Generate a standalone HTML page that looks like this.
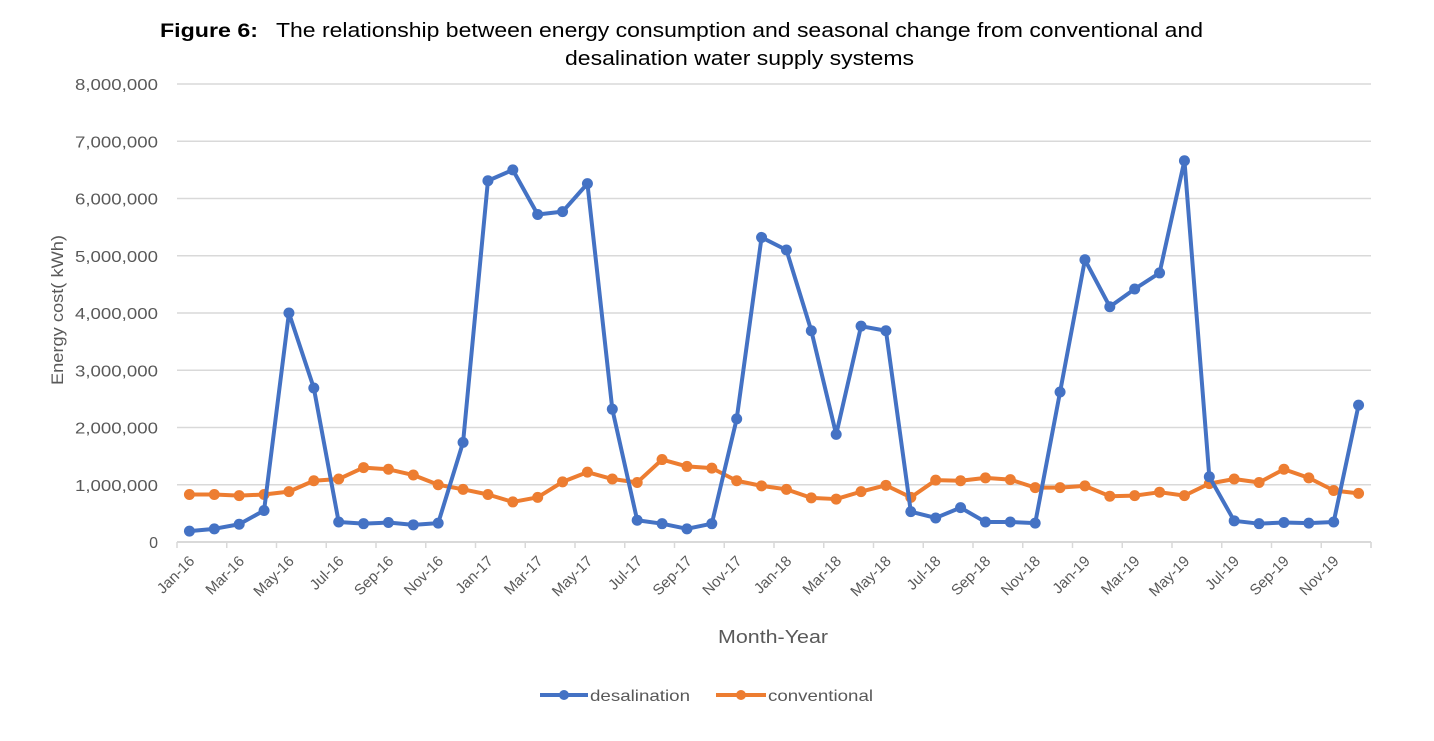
<!DOCTYPE html>
<html><head><meta charset="utf-8"><style>
body{margin:0;background:#fff;width:1434px;height:736px;overflow:hidden;font-family:"Liberation Sans",sans-serif}
</style></head><body>
<svg width="1434" height="736">
<text x="160" y="37" font-size="19" font-weight="bold" textLength="98" lengthAdjust="spacingAndGlyphs">Figure 6:</text>
<text x="276" y="37" font-size="20" textLength="927" lengthAdjust="spacingAndGlyphs">The relationship between energy consumption and seasonal change from conventional and</text>
<text x="565" y="65" font-size="20" textLength="349" lengthAdjust="spacingAndGlyphs">desalination water supply systems</text>
<g id="grid"></g><g id="xt"></g><g id="series"></g>
<text transform="translate(63,310) rotate(-90)" font-size="17" fill="#595959" text-anchor="middle" textLength="150" lengthAdjust="spacingAndGlyphs">Energy cost( kWh)</text>
<text x="718" y="643" font-size="18" fill="#595959" textLength="110" lengthAdjust="spacingAndGlyphs">Month-Year</text>
<g>
<line x1="540" y1="695" x2="588" y2="695" stroke="#4472C4" stroke-width="4"/><circle cx="564" cy="695" r="5" fill="#4472C4"/>
<text x="590" y="701" font-size="16" fill="#595959" textLength="100" lengthAdjust="spacingAndGlyphs">desalination</text>
<line x1="716" y1="695" x2="766" y2="695" stroke="#ED7D31" stroke-width="4"/><circle cx="741" cy="695" r="5" fill="#ED7D31"/>
<text x="768" y="701" font-size="16" fill="#595959" textLength="105" lengthAdjust="spacingAndGlyphs">conventional</text>
</g>
</svg>
<script>
const yTicks=[0,1000000,2000000,3000000,4000000,5000000,6000000,7000000,8000000];
const years=["16","17","18","19"];
const monthNames=["Jan","Feb","Mar","Apr","May","Jun","Jul","Aug","Sep","Oct","Nov","Dec"];
const desalination=[0.19,0.23,0.31,0.55,4.0,2.69,0.35,0.32,0.34,0.30,0.33,1.74,
6.31,6.5,5.72,5.77,6.26,2.32,0.38,0.32,0.23,0.32,2.15,5.32,
5.1,3.69,1.88,3.77,3.69,0.53,0.42,0.6,0.35,0.35,0.33,2.62,
4.93,4.11,4.42,4.7,6.66,1.14,0.37,0.32,0.34,0.33,0.35,2.39];
const conventional=[0.83,0.83,0.81,0.83,0.88,1.07,1.1,1.3,1.27,1.17,1.0,0.92,
0.83,0.7,0.78,1.05,1.22,1.1,1.04,1.44,1.32,1.29,1.07,0.98,
0.92,0.77,0.75,0.88,0.99,0.78,1.08,1.07,1.12,1.09,0.95,0.95,
0.98,0.8,0.81,0.87,0.81,1.02,1.1,1.04,1.27,1.12,0.9,0.85];
const NS="http://www.w3.org/2000/svg";
const L=177,R=1371,T=84,B=542;
const categories=[];years.forEach(y=>monthNames.forEach(m=>categories.push(m+"-"+y)));
const step=(R-L)/categories.length;
const xp=i=>L+step*(i+0.5);
const yp=v=>B-(v/8000000)*(B-T);
function mk(tag,attrs,parent){const e=document.createElementNS(NS,tag);for(const k in attrs)e.setAttribute(k,attrs[k]);parent.appendChild(e);return e;}
const grid=document.getElementById("grid");
yTicks.forEach(v=>{
 const ln=mk("line",{x1:L,x2:R,y1:yp(v),y2:yp(v),stroke:"#d9d9d9","stroke-width":v===0?2:1.5},grid);
 
 
 const s=v.toLocaleString("en-US");
 const t=mk("text",{x:158,y:yp(v)+6,"text-anchor":"end","font-size":16,fill:"#595959"},grid);
 if(s.length>1){t.setAttribute("textLength",83);t.setAttribute("lengthAdjust","spacingAndGlyphs");}
 t.textContent=s;
 
 
});
const xt=document.getElementById("xt");
for(let i=0;i<=categories.length;i+=2){
 const x=L+step*i;
 mk("line",{x1:x,x2:x,y1:B,y2:B+6,stroke:"#d9d9d9","stroke-width":1.5},xt);
}
mk("line",{x1:R,x2:R,y1:B,y2:B+6,stroke:"#d9d9d9","stroke-width":1.5},xt);
categories.forEach((c,i)=>{
 if(i%2)return;
 const x=xp(i)+6,y=B+20;
 const t=mk("text",{transform:`translate(${x},${y}) rotate(-45)`,"text-anchor":"end","font-size":15,fill:"#595959"},xt);
 t.textContent=c;
 
 
});
const sg=document.getElementById("series");
function draw(vals,color,name){
 const p=mk("polyline",{points:vals.map((v,i)=>xp(i)+","+yp(v*1e6)).join(" "),fill:"none",stroke:color,"stroke-width":4,"stroke-linejoin":"round"},sg);
 
 
 vals.forEach((v,i)=>{
  const c=mk("circle",{cx:xp(i),cy:yp(v*1e6),r:5.5,fill:color},sg);
  
  
 });
}
draw(conventional,"#ED7D31","conventional");
draw(desalination,"#4472C4","desalination");
</script>
</body></html>
